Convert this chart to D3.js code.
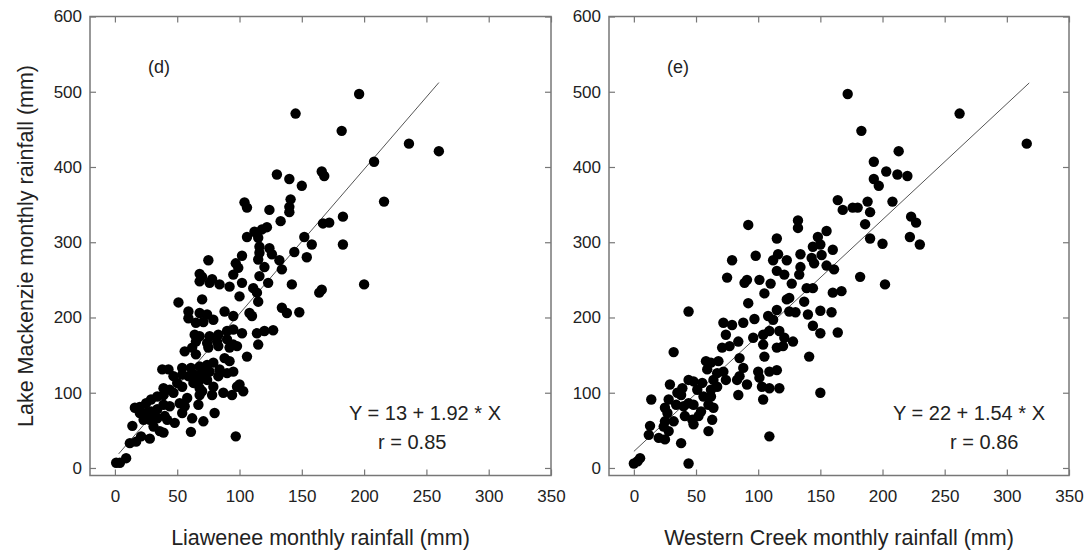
<!DOCTYPE html>
<html>
<head>
<meta charset="utf-8">
<script src="https://cdn.jsdelivr.net/npm/d3@7"></script>
<style>
  body { margin: 0; background: #fff; }
  svg text { font-family: "Liberation Sans", Arial, sans-serif; fill: #222; }
</style>
</head>
<body>
<svg id="chart" width="1089" height="557"></svg>
<script>
// monthly rainfall pairs [x station, Lake Mackenzie]
const liaweneePts = [
  [196,497],[145,471],[182,448],[166,394],[168,388],[130,390],[140,384],[150,375],[104,353],[106,346],
  [124,343],[141,357],[140,347],[140,340],[133,328],[167,325],[172,326],[183,334],[183,297],[152,307],
  [158,297],[154,280],[144,287],[122,320],[118,317],[112,314],[106,307],[115,306],[116,294],[124,292],
  [126,284],[116,286],[115,277],[132,276],[134,264],[120,267],[102,282],[97,272],[99,266],[75,276],
  [68,258],[70,254],[78,251],[95,257],[116,255],[208,407],[216,354],[236,431],[260,421],
  [51,220],[70,224],[59,208],[59,199],[68,206],[74,204],[65,193],[71,194],[79,197],[88,208],
  [95,202],[100,228],[108,206],[110,202],[114,233],[115,221],[111,239],[102,246],[92,241],[84,244],
  [76,246],[68,248],[123,246],[142,244],[164,233],[166,237],[200,244],[134,213],[138,206],[148,207],
  [114,179],[120,182],[127,183],[115,164],[106,148],[102,179],[95,184],[90,182],[83,177],[76,175],
  [68,175],[64,177],[65,168],[74,166],[82,168],[90,171],[95,164],[98,162],[92,160],[83,162],
  [75,160],[56,155],[62,160],[65,151],[88,146],[92,142],[79,140],[74,137],[68,135],[61,133],
  [54,133],[43,131],[47,122],[54,124],[59,122],[64,124],[70,126],[76,128],[84,131],[90,126],
  [95,128],[83,122],[68,117],[74,117],[63,113],[54,108],[50,113],[68,106],[79,108],[78,97],
  [87,100],[94,97],[100,111],[103,102],[98,108],[68,97],[70,102],[58,93],[52,86],[56,82],
  [67,84],[54,73],[62,66],[71,62],[80,73],[61,48],[97,42],[48,60],[42,64],[47,100],
  [39,106],[38,131],[44,104],[39,97],[34,95],[29,91],[25,86],[39,84],[44,82],[34,78],
  [29,75],[25,73],[20,73],[23,64],[28,64],[34,66],[40,69],[31,55],[36,49],[39,47],
  [28,39],[21,42],[17,35],[12,33],[14,56],[16,80],[20,81],[9,13],[4,7],[1,7]
];

const westernPts = [
  [172,497],[262,471],[316,431],[183,448],[213,421],[193,407],[203,394],[212,390],[220,388],[193,384],
  [197,375],[188,354],[208,354],[164,356],[168,343],[176,346],[180,346],[190,340],[186,324],[223,334],
  [227,326],[222,307],[230,297],[190,305],[200,298],[155,315],[148,307],[132,329],[132,319],[115,305],
  [92,323],[79,276],[98,282],[112,276],[116,284],[123,276],[134,284],[143,279],[145,272],[144,294],
  [150,297],[151,283],[160,290],[155,269],[161,264],[134,267],[121,257],[182,254],[133,257],[91,250],
  [101,250],[75,253],[202,244],[160,233],[167,235],[139,239],[144,239],[125,226],[123,224],[137,221],
  [125,208],[130,207],[140,204],[150,209],[159,207],[144,189],[150,179],[164,180],[115,210],[108,202],
  [112,197],[97,198],[92,219],[89,246],[79,190],[88,193],[96,173],[104,177],[109,182],[117,182],
  [121,173],[128,168],[115,160],[120,162],[104,164],[105,148],[141,148],[84,168],[85,146],[77,162],
  [100,128],[109,128],[115,130],[88,133],[85,122],[91,111],[83,117],[101,120],[103,108],[109,106],
  [117,106],[104,91],[84,97],[150,100],[109,42],[110,245],[115,262],[105,232],[127,245],
  [44,208],[32,154],[72,193],[74,177],[71,160],[58,142],[62,140],[68,142],[59,131],[67,126],
  [72,128],[74,117],[64,117],[55,113],[48,115],[44,117],[51,104],[62,104],[67,108],[56,95],
  [62,95],[60,84],[64,80],[63,64],[60,49],[54,75],[52,69],[47,64],[48,58],[41,69],
  [40,82],[44,86],[48,84],[38,97],[39,106],[35,100],[29,111],[28,91],[25,80],[27,73],
  [34,84],[32,62],[25,62],[24,55],[28,49],[20,40],[25,38],[12,44],[13,56],[14,91],
  [38,33],[44,6],[5,13],[3,9],[0,6]
];

const xTicks = [0, 50, 100, 150, 200, 250, 300, 350];
const yTicks = [0, 100, 200, 300, 400, 500, 600];

const panels = [
  { pts: liaweneePts, tag: "(d)", xTitle: "Liawenee monthly rainfall (mm)",
    a: 13, b: 1.92, fit: [3, 260], eq: "Y = 13 + 1.92 * X", r: "r = 0.85",
    left: 90, right: 551, eqX: 259, rX: 288 },
  { pts: westernPts, tag: "(e)", xTitle: "Western Creek monthly rainfall (mm)",
    a: 22, b: 1.54, fit: [0, 318], eq: "Y = 22 + 1.54 * X", r: "r = 0.86",
    left: 609, right: 1069, eqX: 284, rX: 341 }
];

const svg = d3.select("#chart");
const plotTop = 16.5, plotBottom = 475.5;
const frameColor = "#777";

panels.forEach((p, i) => {
  const x = d3.scaleLinear().domain([-20, 350]).range([0, p.right - p.left]);
  const y = d3.scaleLinear().domain([-10, 600]).range([plotBottom - plotTop, 0]);
  const w = p.right - p.left, h = plotBottom - plotTop;
  const g = svg.append("g").attr("transform", `translate(${p.left},${plotTop})`);

  const styleAxis = sel => {
    sel.select(".domain").remove();
    sel.selectAll(".tick line").attr("stroke", frameColor).attr("stroke-width", 1.2);
    sel.selectAll(".tick text").attr("font-size", 17).attr("fill", "#222");
  };

  g.append("g").attr("transform", `translate(0,${h})`)
    .call(d3.axisBottom(x).tickValues(xTicks).tickSizeInner(-6).tickSizeOuter(0).tickPadding(14))
    .call(styleAxis);
  g.append("g")
    .call(d3.axisTop(x).tickValues(xTicks).tickSizeInner(-6).tickSizeOuter(0).tickFormat(""))
    .call(styleAxis);
  g.append("g")
    .call(d3.axisLeft(y).tickValues(yTicks).tickSizeInner(-6).tickSizeOuter(0).tickPadding(8))
    .call(styleAxis);
  g.append("g").attr("transform", `translate(${w},0)`)
    .call(d3.axisRight(y).tickValues(yTicks).tickSizeInner(-6).tickSizeOuter(0).tickFormat(""))
    .call(styleAxis);

  g.append("rect")
    .attr("width", w).attr("height", h)
    .attr("fill", "none").attr("stroke", frameColor).attr("stroke-width", 1.5);

  // regression line
  g.append("line")
    .attr("x1", x(p.fit[0])).attr("y1", y(p.a + p.b * p.fit[0]))
    .attr("x2", x(p.fit[1])).attr("y2", y(p.a + p.b * p.fit[1]))
    .attr("stroke", "#555").attr("stroke-width", 1);

  g.selectAll("circle.pt").data(p.pts).join("circle")
    .attr("class", "pt")
    .attr("cx", d => x(d[0]))
    .attr("cy", d => y(d[1]))
    .attr("r", 5.2)
    .attr("fill", "#000");

  g.append("text").attr("x", 58).attr("y", 56.5)
    .attr("font-size", 18).text(p.tag);

  g.append("text").attr("x", p.eqX).attr("y", 403.5)
    .attr("font-size", 20).text(p.eq);
  g.append("text").attr("x", p.rX).attr("y", 432.5)
    .attr("font-size", 20).text(p.r);

  svg.append("text")
    .attr("x", p.left + w / 2).attr("y", 545)
    .attr("text-anchor", "middle").attr("font-size", 21.5)
    .text(p.xTitle);
});

svg.append("text")
  .attr("transform", `translate(33,${(plotTop + plotBottom) / 2}) rotate(-90)`)
  .attr("text-anchor", "middle").attr("font-size", 21.5)
  .text("Lake Mackenzie monthly rainfall (mm)");
</script>
</body>
</html>
